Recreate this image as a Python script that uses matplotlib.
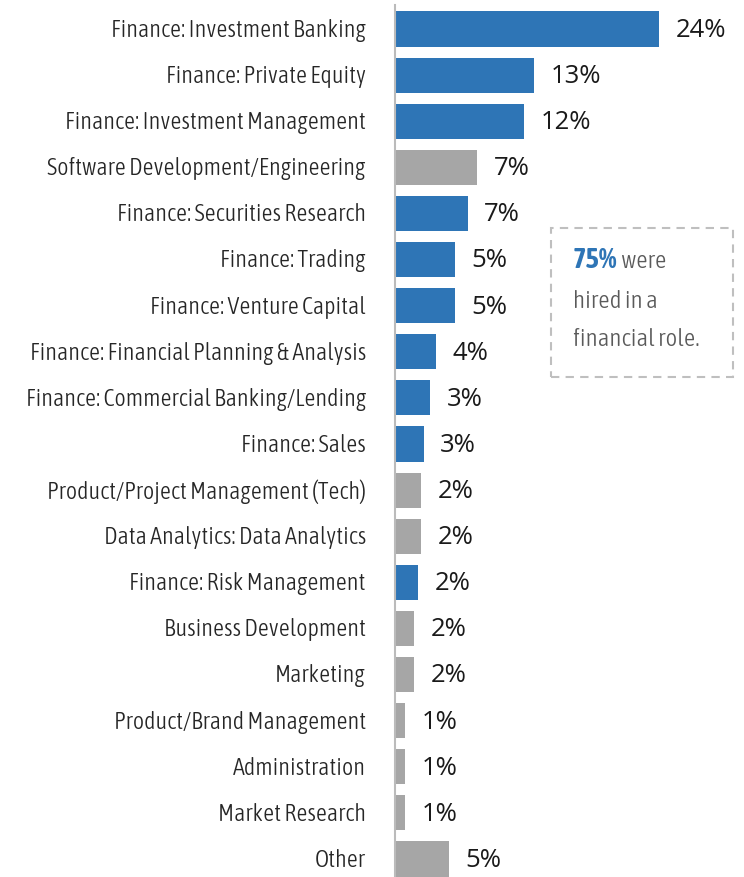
import matplotlib
matplotlib.use("Agg")
import matplotlib.pyplot as plt
from matplotlib import font_manager
from matplotlib.patches import Rectangle

categories = [
    "Finance: Investment Banking", "Finance: Private Equity", "Finance: Investment Management",
    "Software Development/Engineering", "Finance: Securities Research", "Finance: Trading",
    "Finance: Venture Capital", "Finance: Financial Planning & Analysis",
    "Finance: Commercial Banking/Lending", "Finance: Sales", "Product/Project Management (Tech)",
    "Data Analytics: Data Analytics", "Finance: Risk Management", "Business Development",
    "Marketing", "Product/Brand Management", "Administration", "Market Research", "Other",
]
values = [24.0, 12.6, 11.7, 7.45, 6.6, 5.45, 5.45, 3.7, 3.2, 2.6, 2.35, 2.35, 2.1, 1.7, 1.7,
          0.9, 0.9, 0.9, 4.9]
value_labels = ["24%", "13%", "12%", "7%", "7%", "5%", "5%", "4%", "3%", "3%", "2%", "2%",
                "2%", "2%", "2%", "1%", "1%", "1%", "5%"]
is_finance = [True, True, True, False, True, True, True, True, True, True, False, False,
              True, False, False, False, False, False, False]

BLUE = "#2E75B6"
GRAY = "#A6A6A6"

fonts = font_manager.fontManager.ttflist
names = {f.name for f in fonts}

# pick a light condensed font if available
light = None
for f in fonts:
    if "Condensed" in f.name and ("Light" in f.name or f.weight in (300, "light")):
        light = f
        break
bold_c = None
for f in fonts:
    if "Condensed" in f.name and (f.weight in (700, "bold") or "Bold" in f.fname):
        bold_c = f
        break

if light is not None:
    cond_kw = dict(fontproperties=font_manager.FontProperties(fname=light.fname))
else:
    cond_kw = dict(family="Liberation Sans Narrow" if "Liberation Sans Narrow" in names else "DejaVu Sans")
if bold_c is not None:
    bold_kw = dict(fontproperties=font_manager.FontProperties(fname=bold_c.fname))
else:
    bold_kw = dict(fontweight="bold")
reg = "Open Sans" if "Open Sans" in names else "DejaVu Sans"


def fp(kw, size):
    if "fontproperties" in kw:
        p = kw["fontproperties"].copy()
        p.set_size(size)
        return dict(fontproperties=p)
    d = dict(kw)
    d["fontsize"] = size
    return d


W, H = 744, 877
fig = plt.figure(figsize=(W / 100, H / 100), dpi=100)
ax = fig.add_axes([395 / W, 0, 349 / W, 1])
px_per = 11.0
ax.set_xlim(0, 349 / px_per)
pitch = 46.11
ax.set_ylim((H - 29) / pitch, -29 / pitch)

colors = [BLUE if f else GRAY for f in is_finance]
y = list(range(len(categories)))
ax.barh(y, values, height=0.76, color=colors, zorder=2)

for i, (v, lab) in enumerate(zip(values, value_labels)):
    ax.annotate(lab, xy=(v, i), xytext=(12, -1), textcoords="offset points",
                ha="left", va="center", fontsize=18.5, family=reg, color="#1a1a1a")
    ax.annotate(categories[i], xy=(0, i), xytext=(-21, -1), textcoords="offset points",
                ha="right", va="center", color="#262626",
                annotation_clip=False, **fp(cond_kw, 17.4))

ax.set_yticks([])
ax.set_xticks([])
for s in ["top", "right", "bottom"]:
    ax.spines[s].set_visible(False)
ax.spines["left"].set_color("#BBBBBB")
ax.spines["left"].set_linewidth(1.5)
ax.spines["left"].set_bounds(-24 / pitch, (H - 29) / pitch)

# annotation box (figure pixel coords)
box = Rectangle((551 / W, 1 - 377 / H), (733 - 551) / W, (377 - 228) / H,
                transform=fig.transFigure, fill=False, edgecolor="#BFBFBF",
                linestyle=(0, (4, 3)), linewidth=1.5)
fig.add_artist(box)
t1 = fig.text(573 / W, 1 - 261 / H, "75%", ha="left", va="center",
              color=BLUE, **fp(bold_kw, 20.5))
fig.add_artist(matplotlib.text.Annotation(" were", xy=(1, 0.5), xycoords=t1,
                                          ha="left", va="center", color="#5a5a5a",
                                          **fp(cond_kw, 18)))
fig.text(573 / W, 1 - 301 / H, "hired in a", ha="left", va="center",
         color="#5a5a5a", **fp(cond_kw, 18))
fig.text(573 / W, 1 - 340 / H, "financial role.", ha="left", va="center",
         color="#5a5a5a", **fp(cond_kw, 18))

fig.savefig("out.png", dpi=100)
